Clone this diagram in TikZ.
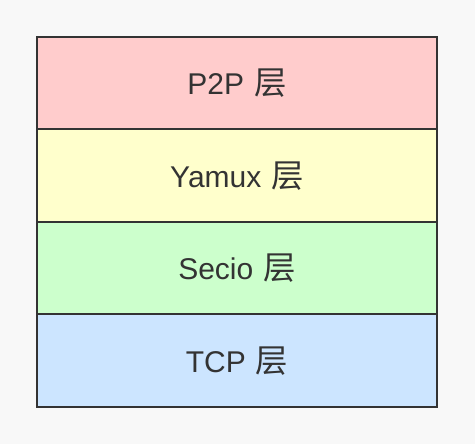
\documentclass[tikz,border=0pt]{standalone}
\usepackage{fontspec}
\setmainfont{Liberation Sans}
\newfontfamily\cjk[Scale=1.08]{Noto Sans CJK SC}
\usepackage{tikz}
\usetikzlibrary{positioning}
\usepackage{xcolor}
\definecolor{layerline}{HTML}{333333}
\definecolor{layerpage}{HTML}{F8F8F8}
\definecolor{layerred}{HTML}{FFCCCC}
\definecolor{layeryellow}{HTML}{FFFFCC}
\definecolor{layergreen}{HTML}{CCFFCC}
\definecolor{layerblue}{HTML}{CCE5FF}
\tikzset{
  layerbox/.style={
    draw=layerline,
    line width=2pt,
    outer sep=0pt,
    minimum width=400pt,
    minimum height=92.5pt,
    inner sep=0pt,
    align=center,
    text=layerline,
    font=\fontsize{30pt}{34pt}\selectfont
  }
}

\begin{document}
\begin{tikzpicture}[x=1pt, y=1pt, node distance=0pt]
\fill[layerpage] (0,0) rectangle (475,444);
\useasboundingbox (0,0) rectangle (475,444);
\node[layerbox, fill=layerred, anchor=north west] (p2p) at (37,407) {P2P\hspace{10pt}{\cjk 层}};
\node[layerbox, fill=layeryellow, below=of p2p] (yamux) {Yamux\hspace{10pt}{\cjk 层}};
\node[layerbox, fill=layergreen, below=of yamux] (secio) {Secio\hspace{10pt}{\cjk 层}};
\node[layerbox, fill=layerblue, below=of secio] (tcp) {TCP\hspace{10pt}{\cjk 层}};
\end{tikzpicture}
\end{document}
